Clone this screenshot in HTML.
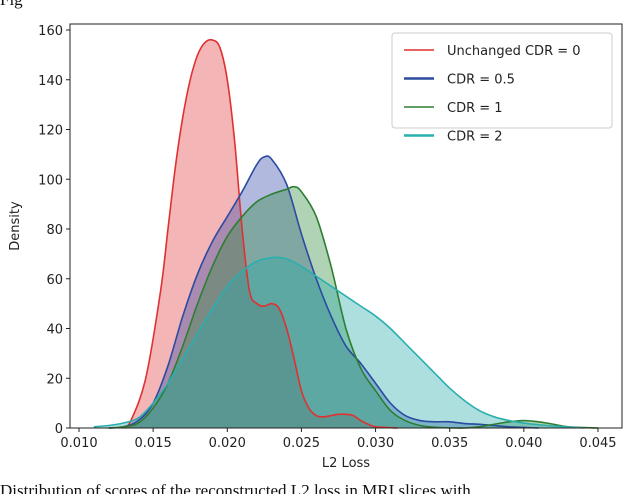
<!DOCTYPE html>
<html><head><meta charset="utf-8"><style>
body{margin:0;background:#fff;width:640px;height:494px;overflow:hidden;position:relative}
svg{position:absolute;left:0;top:0}
text{font-family:"DejaVu Sans","Liberation Sans",sans-serif;font-size:13px;fill:#222}
.cap{font-family:"Liberation Serif",serif;font-size:17px;fill:#111}
</style></head><body>
<svg id="c" width="640" height="494">
<text class="cap" x="0" y="5">Fig</text>
<text class="cap" x="0" y="496">Distribution of scores of the reconstructed L2 loss in MRI slices with</text>
</svg>
<script>
const xTicks=[0.010,0.015,0.020,0.025,0.030,0.035,0.040,0.045];
const yTicks=[0,20,40,60,80,100,120,140,160];
const seriesNames=["Unchanged CDR = 0","CDR = 0.5","CDR = 1","CDR = 2"];
const redX=[0.0130,0.0135,0.0145,0.0155,0.016,0.0165,0.017,0.0175,0.018,0.0185,0.019,0.0195,0.020,0.0205,0.021,0.0215,0.022,0.0225,0.023,0.0235,0.024,0.0245,0.025,0.0255,0.026,0.0265,0.027,0.0275,0.028,0.0285,0.029,0.0295,0.030,0.0315];
const redY=[0,3,20,55,80,105,125,140,150,155,156,153,140,115,80,55,50,49,50,48,40,28,15,8,5,4.5,5,5.5,5.5,5,3,1.5,0.5,0];
const blueX=[0.012,0.013,0.014,0.015,0.016,0.017,0.018,0.019,0.020,0.021,0.022,0.0225,0.023,0.024,0.025,0.026,0.027,0.028,0.029,0.030,0.031,0.032,0.033,0.034,0.035,0.036,0.037,0.038,0.039,0.041];
const blueY=[0,0.5,3,10,25,45,62,75,85,95,106,109,108,98,78,60,45,33,26,18,10,5,3,2.5,2.5,1.8,1.5,1,0.5,0];
const greenX=[0.012,0.013,0.014,0.015,0.016,0.017,0.018,0.019,0.020,0.021,0.022,0.023,0.024,0.0245,0.025,0.026,0.027,0.028,0.029,0.030,0.031,0.032,0.033,0.034,0.036,0.037,0.038,0.039,0.040,0.041,0.042,0.043,0.045];
const greenY=[0,0.5,2,8,18,33,50,65,77,85,91,94,96,97,95,85,65,40,24,15,7,3,1,0.3,0,0.5,1.5,2.5,3,2.5,1.5,0.5,0];
const cyanX=[0.011,0.012,0.013,0.014,0.015,0.016,0.017,0.018,0.019,0.020,0.021,0.022,0.023,0.0235,0.024,0.025,0.026,0.027,0.028,0.029,0.030,0.031,0.032,0.033,0.034,0.035,0.036,0.037,0.038,0.039,0.040,0.041,0.042,0.043,0.044];
const cyanY=[0.5,1,2,4,10,18,28,38,48,57,63,67,68.5,68.5,68,65,61,57,53,49,45,40,34,28,22,16,11,7,4.5,3,2,1.3,0.8,0.4,0];
const NS="http://www.w3.org/2000/svg";
const svg=document.getElementById('c');
const L=70,R=622,T=24,B=428;
const sx=v=>79+(v-0.010)/0.005*74.14;
const sy=v=>428-v*2.4875;
function mk(t,a){const e=document.createElementNS(NS,t);for(const k in a)e.setAttribute(k,a[k]);svg.appendChild(e);return e;}
function smooth(xs,ys){let p=xs.map((x,i)=>[sx(x),sy(ys[i])]);let d="M"+p[0][0]+","+p[0][1];
for(let i=0;i<p.length-1;i++){const p0=p[i-1]||p[i],p1=p[i],p2=p[i+1],p3=p[i+2]||p2;
d+=` C${p1[0]+(p2[0]-p0[0])/6},${p1[1]+(p2[1]-p0[1])/6} ${p2[0]-(p3[0]-p1[0])/6},${p2[1]-(p3[1]-p1[1])/6} ${p2[0]},${p2[1]}`;}return d;}
const ser=[[redX,redY,"#e03030","rgba(224,60,60,0.38)"],[blueX,blueY,"#2b4aa0","rgba(50,70,170,0.38)"],[greenX,greenY,"#2e7d32","rgba(50,140,60,0.38)"],[cyanX,cyanY,"#2aafaf","rgba(40,170,170,0.38)"]];
ser.forEach((s,i)=>{const d=smooth(s[0],s[1]);
const f=mk('path',{d:d+` L${sx(s[0][s[0].length-1])},${B} L${sx(s[0][0])},${B} Z`,fill:s[3],stroke:'none'});

});
ser.forEach((s,i)=>{const d=smooth(s[0],s[1]);
const l=mk('path',{d:d,fill:'none',stroke:s[2],'stroke-width':1.6});

});
const fr=mk('rect',{x:L,y:T,width:R-L,height:B-T,fill:'none',stroke:'#222','stroke-width':1});


xTicks.forEach(v=>{const x=sx(v);mk('line',{x1:x,x2:x,y1:B,y2:B+4,stroke:'#222'});
const t=mk('text',{x:x,y:B+19,'text-anchor':'middle'});t.textContent=v.toFixed(3);

});
yTicks.forEach(v=>{const y=sy(v);mk('line',{x1:L,x2:L-4,y1:y,y2:y,stroke:'#222'});
const t=mk('text',{x:L-7,y:y+5,'text-anchor':'end'});t.textContent=v;

});
let xt=mk('text',{x:346,y:467,'text-anchor':'middle'});xt.textContent="L2 Loss";


let yt=mk('text',{x:19,y:226,'text-anchor':'middle',transform:'rotate(-90 19 226)'});yt.textContent="Density";


const lg=mk('rect',{x:392,y:33,width:220,height:95,rx:3,fill:'rgba(255,255,255,0.85)',stroke:'#ccc'});


seriesNames.forEach((n,i)=>{const y=50+i*28.5;
mk('line',{x1:404,x2:434,y1:y,y2:y,stroke:ser[i][2],'stroke-width':i%2?2.5:1.6});
const t=mk('text',{x:447,y:y+5});t.textContent=n;

});
</script>
</body></html>
